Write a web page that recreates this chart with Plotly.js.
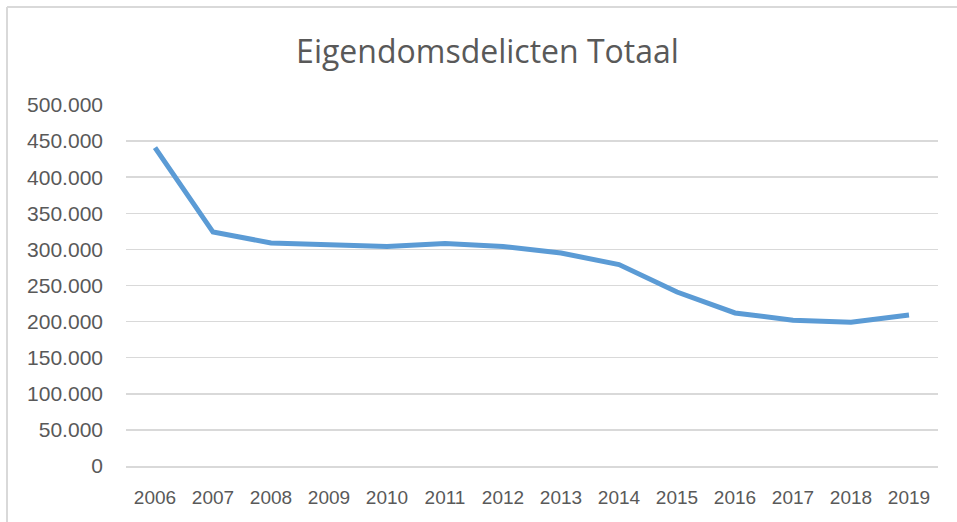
<!DOCTYPE html>
<html>
<head>
<meta charset="utf-8">
<script src="https://cdn.plot.ly/plotly-3.0.1.min.js"></script>
<style>html,body{margin:0;padding:0;background:#fff;}#chart{width:957px;height:522px;}</style>
</head>
<body>
<div id="chart"></div>
<script>
var years = ['2006','2007','2008','2009','2010','2011','2012','2013','2014','2015','2016','2017','2018','2019'];
var totals = [441000, 324000, 309000, 306000, 304000, 308000, 304000, 295000, 279000, 241000, 212000, 202000, 199000, 209000];
var yTicks = [0, 50000, 100000, 150000, 200000, 250000, 300000, 350000, 400000, 450000, 500000];
var chartTitle = 'Eigendomsdelicten Totaal';

var L = 126, R = 19, T = 105, B = 56, W = 957, H = 522;
var pw = W - L - R, ph = H - T - B;
function px(x){ return (x - L) / pw; }
function py(y){ return (H - B - y) / ph; }

var trace = {
  x: years,
  y: totals,
  type: 'scatter',
  mode: 'lines',
  line: {color: '#5b9bd5', width: 5, shape: 'linear'},
  hoverinfo: 'x+y'
};

var layout = {
  width: W, height: H,
  margin: {l: L, r: R, t: T, b: B, pad: 0},
  paper_bgcolor: '#ffffff',
  plot_bgcolor: '#ffffff',
  separators: ',.',
  showlegend: false,
  title: {
    text: chartTitle,
    font: {family: 'Open Sans, sans-serif', size: 32, color: '#595959'},
    x: 487.5 / 957, xref: 'container', xanchor: 'center',
    y: 1 - 52/522, yref: 'container', yanchor: 'middle'
  },
  xaxis: {
    type: 'category',
    range: [-0.5, 13.5],
    showgrid: false,
    showline: true,
    linecolor: '#d9d9d9',
    linewidth: 1.5,
    ticks: '',
    zeroline: false,
    tickfont: {family: 'Liberation Sans Narrow, Liberation Sans, sans-serif', size: 19, color: '#595959'},
    ticklabelstandoff: 14
  },
  yaxis: {
    range: [0, 500000],
    tickvals: yTicks,
    tickformat: ',d',
    showgrid: true,
    gridcolor: '#d9d9d9',
    gridwidth: 1.5,
    showline: false,
    zeroline: false,
    ticks: '',
    tickfont: {family: 'Liberation Sans, Arial, sans-serif', size: 21, color: '#595959'},
    ticklabelstandoff: 22
  },
  shapes: [
    {type: 'line', xref: 'paper', yref: 'paper', x0: px(7), x1: px(957), y0: py(7), y1: py(7), line: {color: '#d9d9d9', width: 2}},
    {type: 'line', xref: 'paper', yref: 'paper', x0: px(7), x1: px(7), y0: py(7), y1: py(522), line: {color: '#d9d9d9', width: 2}}
  ]
};

Plotly.newPlot('chart', [trace], layout, {displayModeBar: false, staticPlot: true});
</script>
</body>
</html>
